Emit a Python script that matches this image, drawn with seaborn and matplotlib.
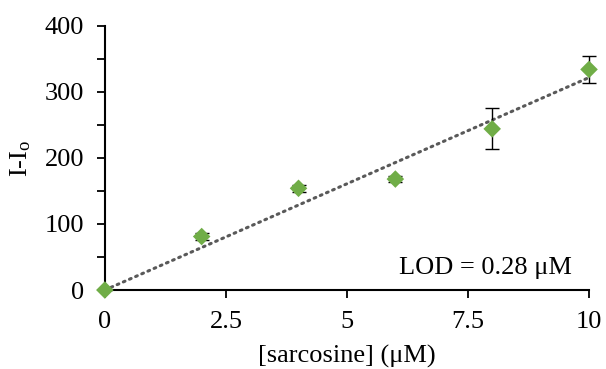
import numpy as np
import pandas as pd
import matplotlib
matplotlib.use("Agg")
import matplotlib.pyplot as plt
import seaborn as sns

# Calibration data: sarcosine concentration vs. signal increase
concentration = [0, 2, 4, 6, 8, 10]
signal = [0, 81, 154, 168, 244, 334]
signal_err = [0, 6, 5, 4, 31, 21]
x_ticks = [0, 2.5, 5, 7.5, 10]
x_tick_labels = ["0", "2.5", "5", "7.5", "10"]
y_ticks = [0, 100, 200, 300, 400]

sns.set_style("ticks")
plt.rcParams["font.family"] = ["Liberation Serif", "DejaVu Serif"]
plt.rcParams["mathtext.fontset"] = "custom"
plt.rcParams["mathtext.rm"] = "Liberation Serif"
plt.rcParams["mathtext.it"] = "Liberation Serif:italic"
plt.rcParams["text.color"] = "black"
plt.rcParams["axes.labelcolor"] = "black"
plt.rcParams["xtick.labelcolor"] = "black"
plt.rcParams["ytick.labelcolor"] = "black"

FS = 19

df = pd.DataFrame({"conc": concentration, "signal": signal, "err": signal_err})

# Linear fit forced through the origin
slope = np.sum(df.conc * df.signal) / np.sum(df.conc ** 2)
fit = pd.DataFrame({"conc": [0, 10], "signal": [0, 10 * slope]})

fig = plt.figure(figsize=(6.06, 3.69), dpi=100)
ax = fig.add_axes([0.173, 0.214, 0.799, 0.716])

sns.lineplot(data=fit, x="conc", y="signal", ax=ax, color="#595959",
             linestyle=(0, (0.6, 1.6)), linewidth=2.2,
             dash_capstyle="round", zorder=1)
ax.errorbar(df.conc, df.signal, yerr=df.err, fmt="none", ecolor="black",
            elinewidth=1.0, capsize=5, capthick=1.0, zorder=2)
sns.scatterplot(data=df, x="conc", y="signal", ax=ax, marker="D", s=80,
                color="#70AD47", edgecolor="none", zorder=3)

ax.set_xlim(0, 10)
ax.set_ylim(0, 400)
ax.set_xticks(x_ticks)
ax.set_xticklabels(x_tick_labels)
ax.set_yticks(y_ticks)
ax.set_yticks(np.arange(50, 400, 100), minor=True)
ax.tick_params(axis="both", which="both", direction="out", length=6,
               width=1.3, color="black", labelcolor="black",
               labelsize=FS, pad=9)

for side in ("top", "right"):
    ax.spines[side].set_visible(False)
for side in ("left", "bottom"):
    ax.spines[side].set_linewidth(1.5)
    ax.spines[side].set_color("black")
    ax.spines[side].set_clip_on(False)

ax.set_xlabel("[sarcosine] (μM)", fontsize=FS, labelpad=9, color="black")
ax.set_ylabel("I-I$_\\mathregular{o}$", fontsize=FS, labelpad=8, color="black")

ax.text(9.65, 33, "LOD = 0.28 μM", fontsize=FS, ha="right", va="center",
        color="black")

for coll in ax.collections:
    coll.set_clip_on(False)
for line in ax.lines:
    line.set_clip_on(False)

fig.savefig("out.png", dpi=100)
